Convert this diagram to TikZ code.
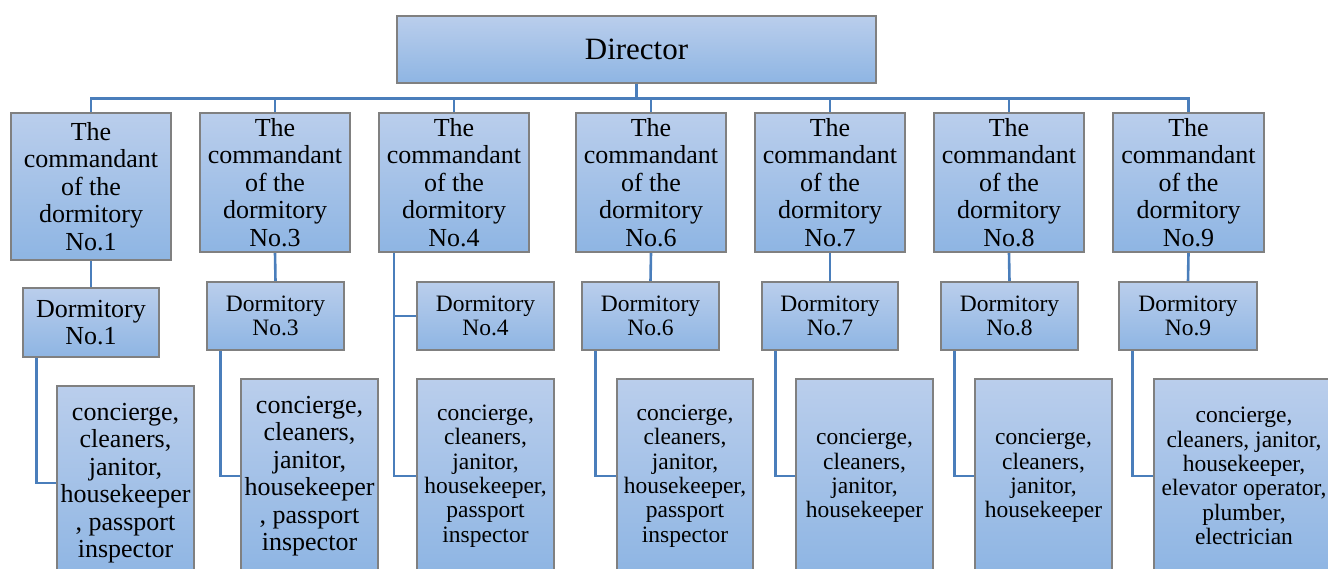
\documentclass[tikz,border=0pt]{standalone}
\usepackage{fontspec}
\setmainfont{Liberation Serif}
\usetikzlibrary{calc}
\definecolor{topblue}{RGB}{186,206,236}
\definecolor{botblue}{RGB}{142,181,227}
\definecolor{boxgray}{RGB}{128,128,128}
\definecolor{connblue}{RGB}{74,126,187}
\pgfdeclarelayer{bg}
\pgfsetlayers{bg,main}
\tikzset{
  orgbox/.style={draw=boxgray, line width=1.3pt, top color=topblue, bottom color=botblue,
    inner sep=0pt, align=center, text=black},
  bigtxt/.style={font=\fontsize{26}{27.5}\selectfont},
  smalltxt/.style={font=\fontsize{23.5}{24.4}\selectfont},
  conn/.style={draw=connblue, line width=2.6pt},
}
\begin{document}
\begin{tikzpicture}[x=1pt,y=-1pt]
\useasboundingbox (0,0) rectangle (1328,569);
\clip (0,0) rectangle (1328,569);
% Director
\node[orgbox, minimum width=479pt, minimum height=67pt, font=\fontsize{31}{36}\selectfont] (dir) at (636.5,49.5) {Director};
% Commandants
\node[orgbox, bigtxt, minimum width=160pt, minimum height=147pt] (c1) at (91,186.5) {The\\commandant\\of the\\dormitory\\No.1};
\node[orgbox, bigtxt, minimum width=150pt, minimum height=139pt] (c3) at (275,182.5) {The\\commandant\\of the\\dormitory\\No.3};
\node[orgbox, bigtxt, minimum width=150pt, minimum height=139pt] (c4) at (454,182.5) {The\\commandant\\of the\\dormitory\\No.4};
\node[orgbox, bigtxt, minimum width=150pt, minimum height=139pt] (c6) at (651,182.5) {The\\commandant\\of the\\dormitory\\No.6};
\node[orgbox, bigtxt, minimum width=150pt, minimum height=139pt] (c7) at (830,182.5) {The\\commandant\\of the\\dormitory\\No.7};
\node[orgbox, bigtxt, minimum width=150pt, minimum height=139pt] (c8) at (1009,182.5) {The\\commandant\\of the\\dormitory\\No.8};
\node[orgbox, bigtxt, minimum width=151pt, minimum height=139pt] (c9) at (1188.5,182.5) {The\\commandant\\of the\\dormitory\\No.9};
% Dormitories
\node[orgbox, bigtxt, minimum width=136pt, minimum height=69pt] (d1) at (91,322.5) {Dormitory\\No.1};
\node[orgbox, smalltxt, minimum width=137pt, minimum height=68pt] (d3) at (275.5,316) {Dormitory\\No.3};
\node[orgbox, smalltxt, minimum width=137pt, minimum height=68pt] (d4) at (485.5,316) {Dormitory\\No.4};
\node[orgbox, smalltxt, minimum width=137pt, minimum height=68pt] (d6) at (650.5,316) {Dormitory\\No.6};
\node[orgbox, smalltxt, minimum width=136pt, minimum height=68pt] (d7) at (830,316) {Dormitory\\No.7};
\node[orgbox, smalltxt, minimum width=137pt, minimum height=68pt] (d8) at (1009.5,316) {Dormitory\\No.8};
\node[orgbox, smalltxt, minimum width=138pt, minimum height=68pt] (d9) at (1188,316) {Dormitory\\No.9};
% Staff
\node[orgbox, bigtxt, minimum width=137pt, minimum height=194pt] (s1) at (125.5,483) {concierge,\\cleaners,\\janitor,\\housekeeper\\, passport\\inspector};
\node[orgbox, bigtxt, minimum width=137pt, minimum height=194pt] (s3) at (309.5,476) {concierge,\\cleaners,\\janitor,\\housekeeper\\, passport\\inspector};
\node[orgbox, smalltxt, minimum width=137pt, minimum height=194pt] (s4) at (485.5,476) {concierge,\\cleaners,\\janitor,\\housekeeper,\\passport\\inspector};
\node[orgbox, smalltxt, minimum width=136pt, minimum height=194pt] (s6) at (685,476) {concierge,\\cleaners,\\janitor,\\housekeeper,\\passport\\inspector};
\node[orgbox, smalltxt, minimum width=137pt, minimum height=194pt] (s7) at (864.5,476) {concierge,\\cleaners,\\janitor,\\housekeeper};
\node[orgbox, smalltxt, minimum width=137pt, minimum height=194pt] (s8) at (1043.5,476) {concierge,\\cleaners,\\janitor,\\housekeeper};
\node[orgbox, smalltxt, minimum width=180pt, minimum height=194pt] (s9) at (1244,476) {concierge,\\cleaners, janitor,\\housekeeper,\\elevator operator,\\plumber,\\electrician};
% Connectors
\coordinate (k4) at (394,0);
\begin{pgfonlayer}{bg}
\path (dir.south) ++(0,15) coordinate (bus);
\draw[conn] (dir.south) -- (bus);
\foreach \i in {1,3,4,6,7,8,9} \draw[conn] (bus) -| (c\i.north);
\foreach \i in {1,3,6,7,8,9} {
  \draw[conn] (c\i.south) -- (d\i.north);
  \draw[conn] ($(d\i.south west)+(14,0)$) |- (s\i.west);
}
\draw[conn] (c4.south -| k4) |- (s4.west);
\draw[conn] (c4.south -| k4) |- (d4.west);
\end{pgfonlayer}
\end{tikzpicture}
\end{document}
